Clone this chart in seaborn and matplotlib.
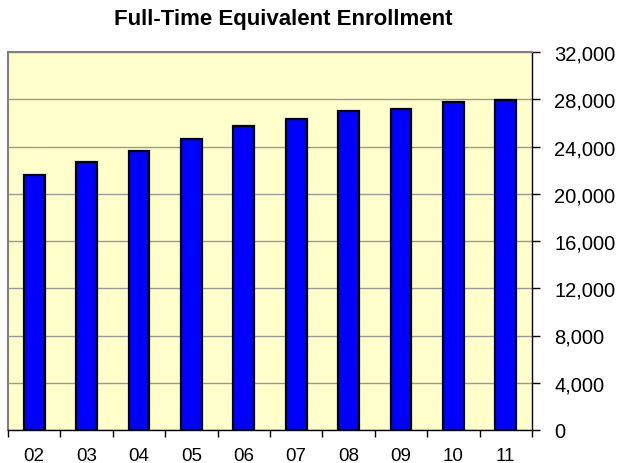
import matplotlib
matplotlib.use("Agg")
import matplotlib.pyplot as plt
import seaborn as sns
import pandas as pd
from matplotlib.ticker import FuncFormatter, MultipleLocator, FixedLocator

# Fiscal years and FTE enrollment
years = ["02", "03", "04", "05", "06", "07", "08", "09", "10", "11"]
fte = [21600, 22700, 23650, 24650, 25700, 26300, 27000, 27200, 27750, 27950]

df = pd.DataFrame({"year": years, "fte": fte})

sns.set_style("white")
plt.rcParams["font.family"] = ["Liberation Sans", "DejaVu Sans"]
plt.rcParams["text.color"] = "black"
plt.rcParams["xtick.color"] = "black"
plt.rcParams["ytick.color"] = "black"

fig = plt.figure(figsize=(6.18, 4.64), dpi=100)
ax = fig.add_axes([8 / 618, 33 / 464, 524 / 618, 378 / 464])
ax.set_facecolor("#FFFFCC")

sns.barplot(data=df, x="year", y="fte", color="#0000FF", edgecolor="black",
            linewidth=1.6, width=0.4, saturation=1, ax=ax)

ax.set_xlim(-0.5, len(years) - 0.5)
ax.set_ylim(0, 32000)
ax.yaxis.set_major_locator(MultipleLocator(4000))
ax.yaxis.set_major_formatter(FuncFormatter(lambda v, p: f"{int(v):,}"))
ax.yaxis.tick_right()
ax.grid(axis="y", color="#999999", linewidth=1)
ax.set_axisbelow(True)

# category boundary ticks on x axis
ax.xaxis.set_minor_locator(FixedLocator([i - 0.5 for i in range(len(years) + 1)]))
ax.tick_params(axis="x", which="major", length=0, pad=12, labelsize=13.5,
               labelcolor="black")
ax.tick_params(axis="x", which="minor", bottom=True, length=5, width=1,
               color="black", direction="out")
ax.tick_params(axis="y", which="major", length=6, width=1, color="black",
               direction="out", pad=10, labelsize=14.5, right=True, left=False,
               labelcolor="black")

for side in ["top", "left"]:
    ax.spines[side].set_color("#808080")
    ax.spines[side].set_linewidth(1.5)
for side in ["bottom", "right"]:
    ax.spines[side].set_color("black")
    ax.spines[side].set_linewidth(1)

ax.set_xlabel("")
ax.set_ylabel("")

fig.text(283 / 618, 1 - 19 / 464, "Full-Time Equivalent Enrollment",
         ha="center", va="center", fontsize=16, fontweight="bold", color="black")

fig.savefig("out.png", dpi=100)
